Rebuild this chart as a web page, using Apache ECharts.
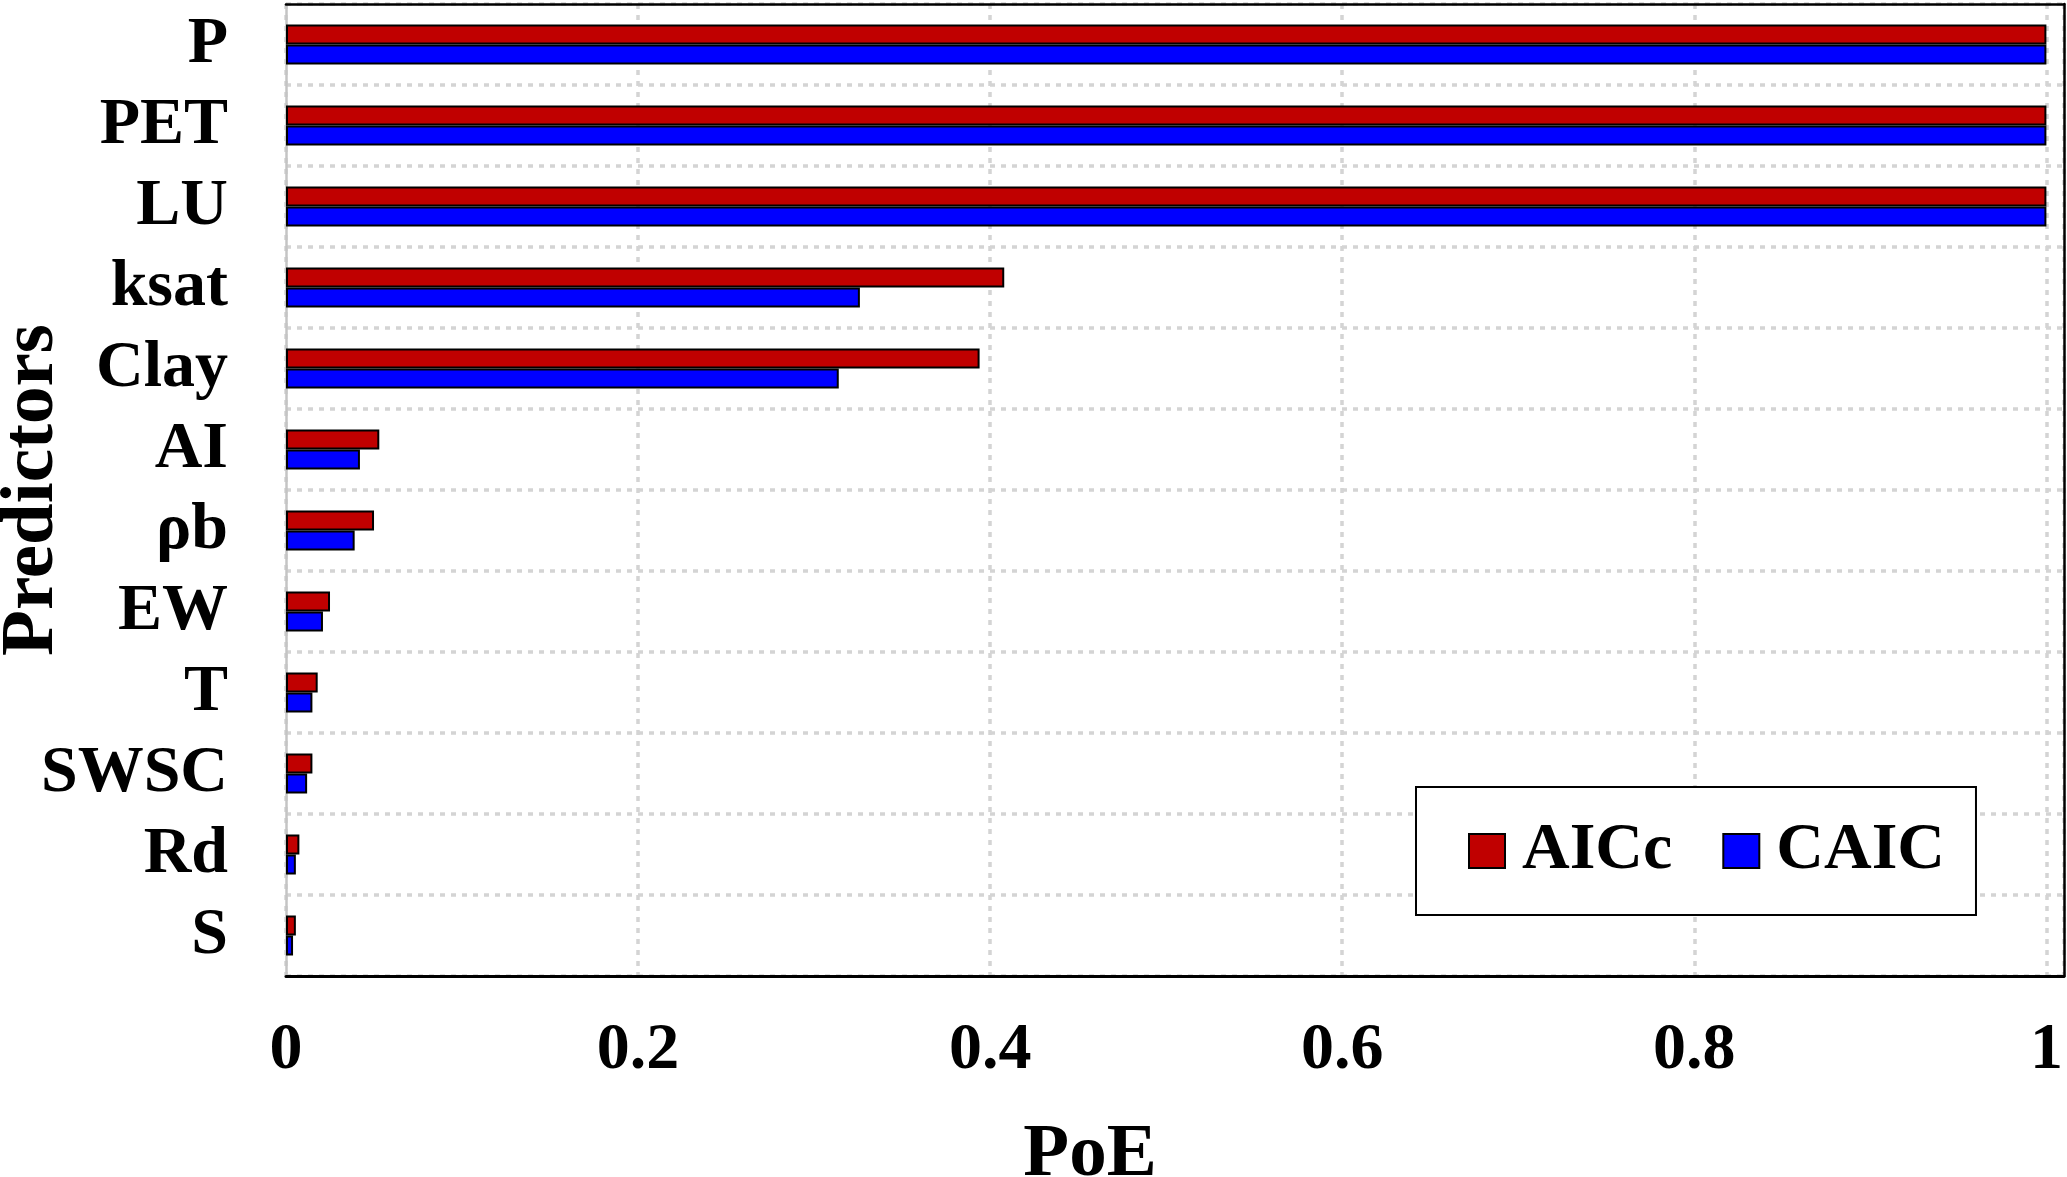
<!DOCTYPE html>
<html>
<head>
<meta charset="utf-8">
<title>PoE of predictors</title>
<script src="https://cdn.jsdelivr.net/npm/echarts@6/dist/echarts.min.js"></script>
<style>
html,body{margin:0;padding:0;background:#fff;}
#chart{width:2067px;height:1177px;}
</style>
</head>
<body>
<div id="chart"></div>
<script>
const categories = ['P', 'PET', 'LU', 'ksat', 'Clay', 'AI', 'ρb', 'EW', 'T', 'SWSC', 'Rd', 'S'];
const aiccValues = [1.0, 1.0, 1.0, 0.408, 0.394, 0.053, 0.050, 0.025, 0.018, 0.015, 0.0076, 0.0056];
const caicValues = [1.0, 1.0, 1.0, 0.326, 0.314, 0.042, 0.039, 0.021, 0.015, 0.012, 0.0056, 0.0040];
const xTicks = [0, 0.2, 0.4, 0.6, 0.8, 1];

const FONT = 'Liberation Serif';
const chart = echarts.init(document.getElementById('chart'), null, {renderer: 'canvas'});

const gridLine = {color: '#d4d4d4', width: 3.5, type: [5, 6]};

chart.setOption({
  backgroundColor: '#fff',
  animation: false,
  grid: {
    left: 286, top: 4, width: 1778, height: 972,
    outerBoundsMode: 'none',
    containLabel: false,
    show: false
  },
  legend: {
    left: 1416, top: 787,
    orient: 'horizontal',
    padding: [31, 31, 31, 52],
    itemWidth: 36, itemHeight: 34, itemGap: 50,
    backgroundColor: '#fff', borderColor: '#000', borderWidth: 2,
    icon: 'rect',
    textStyle: {fontFamily: FONT, fontWeight: 'bold', fontSize: 66, color: '#000', padding: [0, 0, 0, 12]},
    data: ['AICc', 'CAIC']
  },
  xAxis: [
    {
      type: 'value',
      min: 0, max: 1.01, interval: 0.2,
      name: 'PoE',
      nameLocation: 'middle',
      nameGap: 142,
      nameMoveOverlap: false,
      nameTextStyle: {fontFamily: FONT, fontWeight: 'bold', fontSize: 75, color: '#000', padding: [0, 170, 0, 0]},
      axisLine: {show: true, lineStyle: {color: '#000', width: 3}},
      axisTick: {show: false},
      axisLabel: {
        fontFamily: FONT, fontWeight: 'bold', fontSize: 66, color: '#000', margin: 42,
        showMaxLabel: false,
        formatter: function (v) {
          const t = xTicks.find(function (x) { return Math.abs(x - v) < 1e-6; });
          return t === undefined ? '' : String(t);
        }
      },
      splitLine: {show: true, lineStyle: gridLine}
    },
    {
      type: 'value', position: 'top',
      min: 0, max: 1.01,
      axisLine: {show: true, onZero: false, lineStyle: {color: '#000', width: 2.5}},
      axisTick: {show: false}, axisLabel: {show: false}, splitLine: {show: false}
    }
  ],
  yAxis: [
    {
      type: 'category',
      inverse: true,
      data: categories,
      name: 'Predictors',
      nameLocation: 'middle',
      nameGap: 216,
      nameMoveOverlap: false,
      nameRotate: 90,
      nameTextStyle: {fontFamily: FONT, fontWeight: 'bold', fontSize: 75, color: '#000'},
      axisLine: {show: true, onZero: false, lineStyle: {color: '#c4c4c4', width: 2.5}},
      axisTick: {show: false},
      axisLabel: {interval: 0, fontFamily: FONT, fontWeight: 'bold', fontSize: 66, color: '#000', margin: 58},
      splitLine: {show: true, interval: 0, lineStyle: gridLine}
    },
    {
      type: 'category', position: 'right',
      inverse: true,
      data: categories,
      axisLine: {show: true, onZero: false, lineStyle: {color: '#000', width: 2.5}},
      axisTick: {show: false}, axisLabel: {show: false}, splitLine: {show: false}
    }
  ],
  series: [
    {
      name: 'AICc', type: 'bar', data: aiccValues,
      xAxisIndex: 0, yAxisIndex: 0,
      barWidth: 20, barGap: '0%',
      itemStyle: {color: '#C00000', borderColor: '#000', borderWidth: 2}
    },
    {
      name: 'CAIC', type: 'bar', data: caicValues,
      xAxisIndex: 0, yAxisIndex: 0,
      barWidth: 20, barGap: '0%',
      itemStyle: {color: '#0000FF', borderColor: '#000', borderWidth: 2}
    }
  ]
});
</script>
</body>
</html>
